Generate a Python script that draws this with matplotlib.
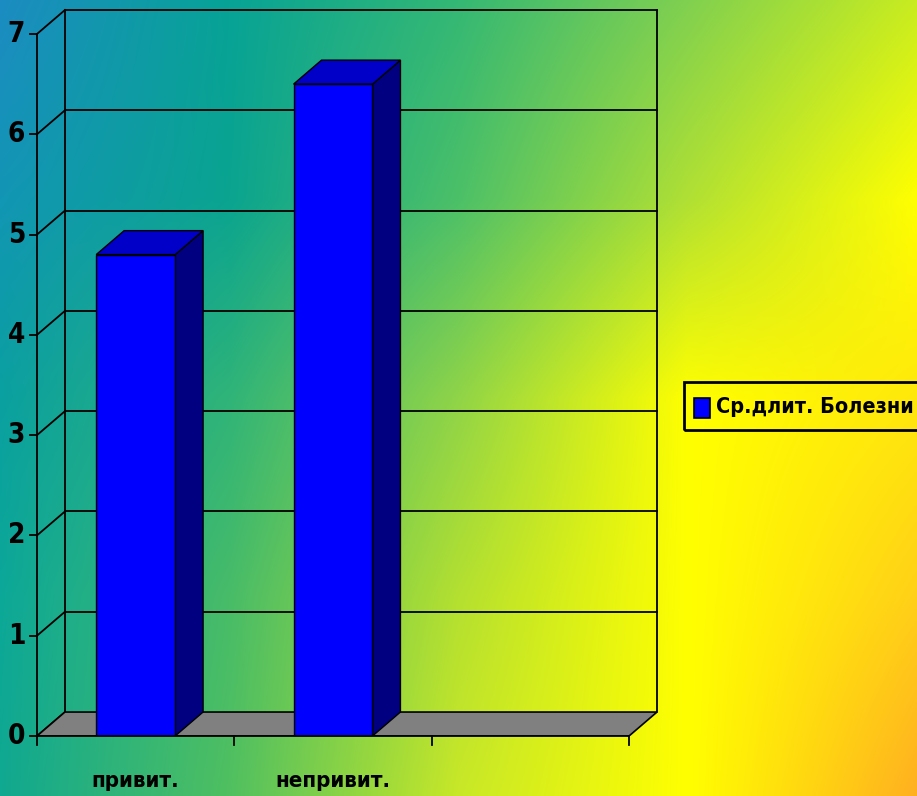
import numpy as np
import matplotlib
matplotlib.use('Agg')
import matplotlib.pyplot as plt
from matplotlib.colors import to_rgb
from matplotlib.patches import Polygon, Rectangle

plt.rcParams['font.family'] = ['DejaVu Sans']
plt.rcParams['font.stretch'] = 'condensed'
plt.rcParams['font.weight'] = 'bold'

categories = ['привит.', 'непривит.', '']
values = [4.8, 6.5]
series_name = 'Ср.длит. Болезни'
yticks = [0, 1, 2, 3, 4, 5, 6, 7]

# background colours, 5x5 grid from top-left to bottom-right
bg_grid = [
    ['#1c8cc2', '#07a396', '#34b874', '#80d050', '#c8ec20'],
    ['#1296b4', '#0aa490', '#4cc068', '#b0e034', '#ffff00'],
    ['#0aa0a0', '#30b478', '#90d448', '#ffff00', '#ffe80c'],
    ['#0ca898', '#48bc68', '#b4e030', '#ffff00', '#ffd018'],
    ['#10a890', '#50c060', '#c8e828', '#ffff00', '#ffb020'],
]

# depth of the 3d box in data units
ddx = 0.1416
ddy = 0.239
bw = 0.4

fig = plt.figure(figsize=(9.17, 7.96), dpi=100)

# gradient background (bilinear blend of the grid)
g = np.array([[to_rgb(c) for c in row] for row in bg_grid])
n = g.shape[0] - 1
u = np.linspace(0, n, 400)
i0 = np.clip(np.floor(u).astype(int), 0, n - 1)
f = (u - i0)[:, None]
rows = g[i0] * (1 - f)[:, :, None] + g[i0 + 1] * f[:, :, None]  # (400, 5, 3)
img = rows[:, i0] * (1 - f.T)[:, :, None] + rows[:, i0 + 1] * f.T[:, :, None]
bg = fig.add_axes([0, 0, 1, 1], zorder=-10)
bg.axis('off')
bg.imshow(img, aspect='auto', extent=[0, 1, 1, 0])

ax = fig.add_axes([37 / 917, 60 / 796, 620 / 917, 726 / 796])
ax.set_xlim(0, 3 + ddx)
ax.set_ylim(0, 7 + ddy)
ax.axis('off')
ax.patch.set_alpha(0)
ncat = len(categories)

# walls and gridlines
for v in yticks:
    ax.plot([0, ddx], [v, v + ddy], color='black', lw=1.3, clip_on=False)
    if v > 0:
        ax.plot([ddx, ncat + ddx], [v + ddy, v + ddy], color='black', lw=1.3, clip_on=False)
ax.plot([ddx, ddx], [ddy, 7 + ddy], color='black', lw=1.3, clip_on=False)
ax.plot([ncat + ddx, ncat + ddx], [ddy, 7 + ddy], color='black', lw=1.3, clip_on=False)

# floor
ax.add_patch(Polygon([(0, 0), (ncat, 0), (ncat + ddx, ddy), (ddx, ddy)],
                     closed=True, facecolor='#808080', edgecolor='black', lw=1.2, zorder=2))

# bars
for i, v in enumerate(values):
    x0 = i + 0.5 - bw / 2
    x1 = i + 0.5 + bw / 2
    ax.add_patch(Polygon([(x1, 0), (x1 + ddx, ddy), (x1 + ddx, v + ddy), (x1, v)],
                         closed=True, facecolor='#000080', edgecolor='black', lw=1, zorder=3))
    ax.add_patch(Polygon([(x0, v), (x1, v), (x1 + ddx, v + ddy), (x0 + ddx, v + ddy)],
                         closed=True, facecolor='#0000c8', edgecolor='black', lw=1, zorder=3))
    ax.add_patch(Rectangle((x0, 0), bw, v, facecolor='#0000ff', edgecolor='black', lw=1, zorder=4))

# front axes
ax.plot([0, 0], [0, 7], color='black', lw=1.3, clip_on=False, zorder=5)
ax.plot([0, ncat], [0, 0], color='black', lw=1.3, clip_on=False, zorder=5)
for v in yticks:
    ax.plot([-0.035, 0], [v, v], color='black', lw=1.3, clip_on=False, zorder=5)
    ax.text(-0.06, v, str(v), ha='right', va='center', fontsize=20, fontweight='bold')
for k in range(ncat + 1):
    ax.plot([k, k], [0, -0.09], color='black', lw=1.3, clip_on=False, zorder=5)
for i, c in enumerate(categories):
    ax.text(i + 0.5, -0.45, c, ha='center', va='center', fontsize=16, fontweight='bold')

# legend
lx, ly = 684 / 917, 366 / 796
fig.patches.append(Rectangle((lx, ly), 1 - lx + 0.01, 48 / 796, transform=fig.transFigure,
                             facecolor='none', edgecolor='black', lw=2))
fig.patches.append(Rectangle((694 / 917, 378 / 796), 16 / 917, 20 / 796, transform=fig.transFigure,
                             facecolor='#0000ff', edgecolor='black', lw=1.2))
fig.text(716 / 917, 389 / 796, series_name, ha='left', va='center', fontsize=15.5, fontweight='bold')

fig.savefig('out.png', dpi=100)
